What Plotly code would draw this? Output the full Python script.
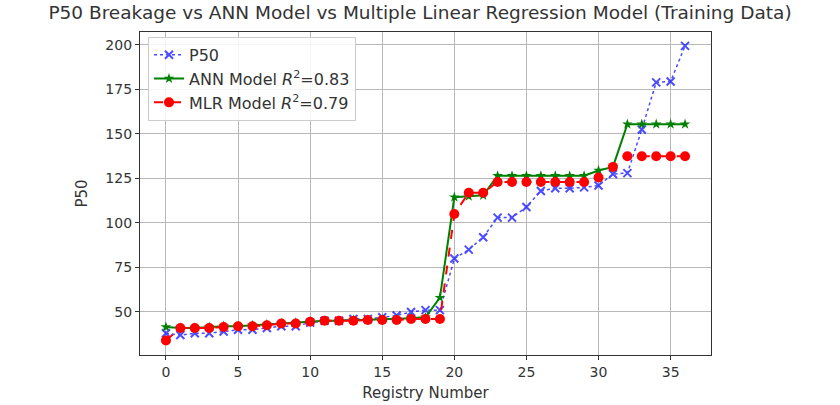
import plotly.graph_objects as go

# Registry numbers and the three P50 series
registry = list(range(37))

p50_actual = [38, 37, 38, 38, 39, 40, 40, 41, 42, 42, 44, 45, 45, 46, 46, 47, 48, 50, 51, 51,
              80, 85, 92, 103, 103, 109, 118, 119.5, 119.5, 120, 121, 127.5, 128, 152.5, 179, 179.5, 199.5]
ann_model = [41.5, 41, 41, 41.5, 42, 42, 42.5, 43, 43.5, 44, 44.5, 45, 45, 45.5, 45.5, 46, 46, 46.5, 47, 58,
             114.5, 115, 115.5, 126.5, 126.5, 126.5, 126.5, 126.5, 126.5, 126.5, 129.5, 131.5,
             155.5, 155.5, 155.5, 155.5, 155.5]
mlr_model = [34, 41, 41, 41, 41.5, 42, 42, 42.5, 43.5, 43.5, 44.5, 45, 45, 45, 45.5, 45.5, 45.5, 46, 46, 46,
             105, 117, 117, 123, 123, 123, 123, 123, 123, 123, 125.5, 131.5,
             137.5, 137.5, 137.5, 137.5, 137.5]

x_ticks = [0, 5, 10, 15, 20, 25, 30, 35]
y_ticks = [50, 75, 100, 125, 150, 175, 200]

FONT = "DejaVu Sans"
TEXT = "#333333"

fig = go.Figure()
fig.add_trace(go.Scatter(
    x=registry, y=p50_actual, name="P50", mode="lines+markers",
    line=dict(color="#0000ff", width=1.5, dash="dot"),
    marker=dict(symbol="x-thin", size=8, line=dict(color="#0000ff", width=2), color="#0000ff"),
    opacity=0.7,
))
fig.add_trace(go.Scatter(
    x=registry, y=ann_model, name="ANN Model <i>R</i><sup>2</sup>=0.83", mode="lines+markers",
    line=dict(color="#008000", width=2),
    marker=dict(symbol="star", size=8, color="#008000"),
))
fig.add_trace(go.Scatter(
    x=registry, y=mlr_model, name="MLR Model <i>R</i><sup>2</sup>=0.79", mode="lines+markers",
    line=dict(color="#ff0000", width=2, dash="dash"),
    marker=dict(symbol="circle", size=10, color="#ff0000"),
))

axis_common = dict(
    showline=True, linecolor="#333333", linewidth=1.2, mirror=True,
    ticks="outside", ticklen=4, tickcolor="#333333",
    showgrid=True, gridcolor="#b8b8b8", gridwidth=1, zeroline=False,
    tickfont=dict(family=FONT, size=14, color=TEXT),
    automargin=False,
)

fig.update_layout(
    width=840, height=405,
    margin=dict(l=140, r=129, t=32, b=50),
    paper_bgcolor="white", plot_bgcolor="white",
    title=dict(text="P50 Breakage vs ANN Model vs Multiple Linear Regression Model (Training Data)",
               x=0.5, xanchor="center", y=0.968, yanchor="middle",
               font=dict(family=FONT, size=18.5, color=TEXT)),
    xaxis=dict(range=[-1.8, 37.8], tickvals=x_ticks,
               title=dict(text="Registry Number", font=dict(family=FONT, size=15, color=TEXT), standoff=8),
               **axis_common),
    yaxis=dict(range=[25.8, 207.3], tickvals=y_ticks,
               title=dict(text="P50", font=dict(family=FONT, size=15, color=TEXT), standoff=14),
               **axis_common),
    legend=dict(x=0.014, y=0.985, xanchor="left", yanchor="top",
                bgcolor="rgba(255,255,255,0.85)", bordercolor="#cccccc", borderwidth=1,
                font=dict(family=FONT, size=16, color=TEXT), tracegroupgap=0),
    showlegend=True,
)

fig.write_html("out.html")
